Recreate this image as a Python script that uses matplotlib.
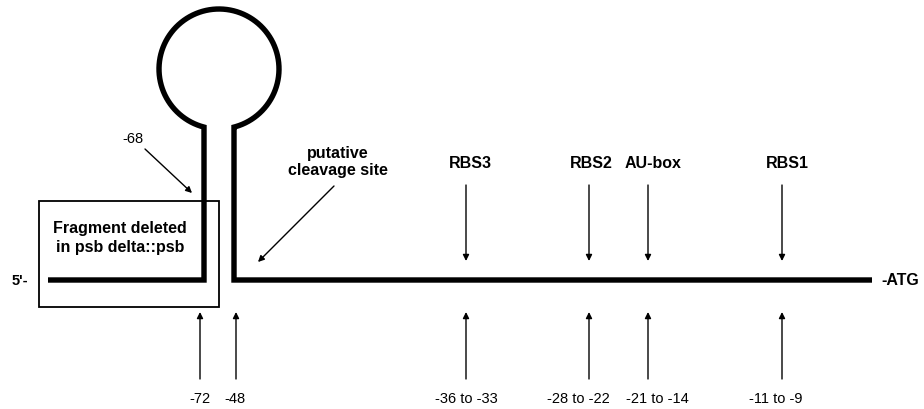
import numpy as np
import matplotlib
matplotlib.use('Agg')
import matplotlib.pyplot as plt
from matplotlib.patches import Rectangle

plt.rcParams['font.family'] = ['Liberation Sans', 'DejaVu Sans']

# features above the line (label, x)
site_labels = ['RBS3', 'RBS2', 'AU-box', 'RBS1']
site_x = [466, 589, 648, 782]
site_label_x = [470, 591, 653, 787]

# positions below the line (label, x)
pos_labels = ['-72', '-48', '-36 to -33', '-28 to -22', '-21 to -14', '-11 to -9']
pos_x = [200, 236, 466, 589, 648, 782]
pos_label_x = [200, 235, 466, 578, 657, 776]

# geometry of the mRNA sketch (pixel layout)
line_y = 281
line_left, line_right = 48, 872
stem_left, stem_right = 204, 234
loop_cx, loop_cy, loop_r = 219, 70, 60

fig = plt.figure(figsize=(9.24, 4.10), dpi=100)
ax = fig.add_axes([0, 0, 1, 1])
ax.set_xlim(0, 924)
ax.set_ylim(410, 0)
ax.axis('off')

# stem-loop + line as one path
half = np.degrees(np.arcsin((stem_right - stem_left) / 2 / loop_r))
theta = np.radians(np.linspace(90 + half, 450 - half, 200))
loop_xs = loop_cx + loop_r * np.cos(theta)
loop_ys = loop_cy + loop_r * np.sin(theta)
xs = np.concatenate([[line_left, stem_left], loop_xs, [stem_right, line_right]])
ys = np.concatenate([[line_y, line_y], loop_ys, [line_y, line_y]])
ax.plot(xs, ys, color='black', lw=3.9, solid_joinstyle='miter', solid_capstyle='butt')

ax.text(12, line_y, "5'-", ha='left', va='center', fontsize=10.5, fontweight='bold')
ax.text(881, line_y, '-ATG', ha='left', va='center', fontsize=11.5, fontweight='bold')

# deleted fragment box
ax.add_patch(Rectangle((39, 202), 180, 106, fill=False, lw=1.3, ec='black'))
ax.text(120, 238, 'Fragment deleted\nin psb delta::psb', ha='center', va='center',
        fontsize=11.5, fontweight='bold', linespacing=1.3)

arrow = dict(arrowstyle='-|>', lw=1.0, color='black', mutation_scale=9, shrinkA=0, shrinkB=0)

# -68 pointer
ax.text(133, 139, '-68', ha='center', va='center', fontsize=10.5)
ax.annotate('', xy=(192, 194), xytext=(145, 150), arrowprops=arrow)

# cleavage site
ax.text(338, 162, 'putative\ncleavage site', ha='center', va='center',
        fontsize=11.5, fontweight='bold', linespacing=1.2)
ax.annotate('', xy=(258, 263), xytext=(334, 187), arrowprops=arrow)

# sites above line
for lab, x, lx in zip(site_labels, site_x, site_label_x):
    ax.text(lx, 164, lab, ha='center', va='center', fontsize=11.5, fontweight='bold')
    ax.annotate('', xy=(x, 262), xytext=(x, 186), arrowprops=arrow)

# positions below line
for lab, x, lx in zip(pos_labels, pos_x, pos_label_x):
    ax.annotate('', xy=(x, 313), xytext=(x, 380), arrowprops=arrow)
    ax.text(lx, 399, lab, ha='center', va='center', fontsize=10.5)

fig.savefig('out.png', dpi=100)
